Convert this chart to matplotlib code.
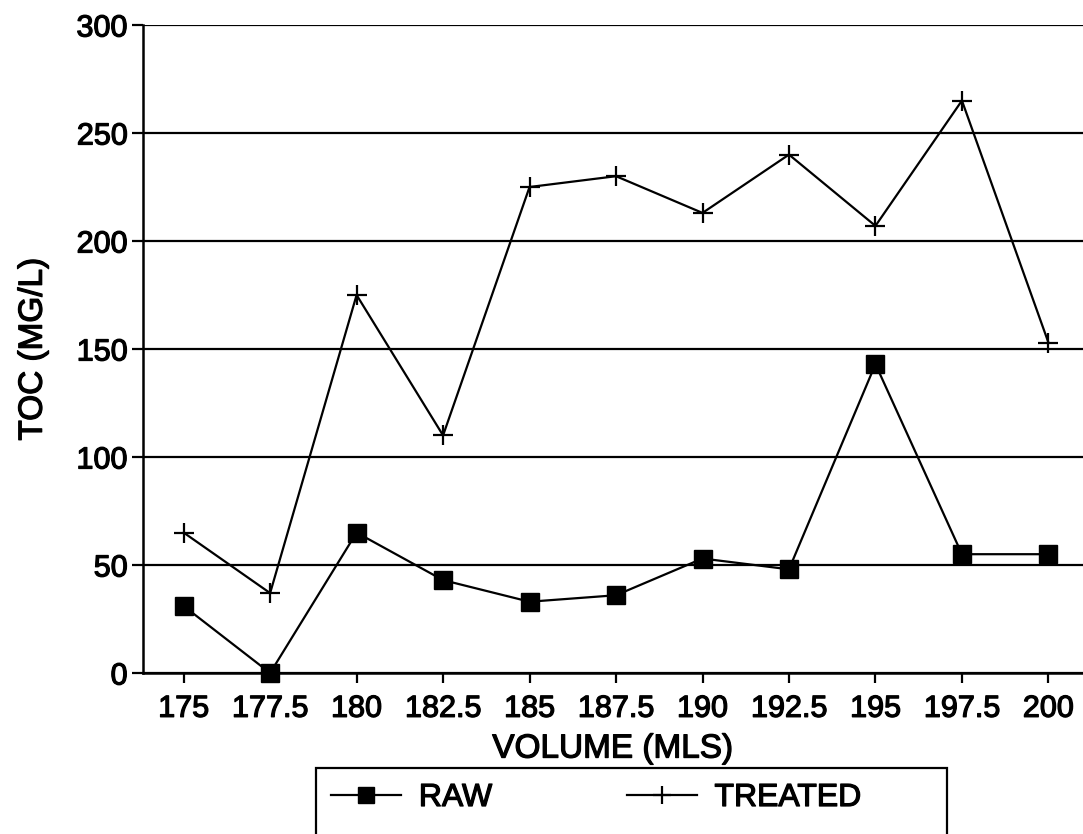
import matplotlib.pyplot as plt
import matplotlib.patheffects as pe
from matplotlib.patches import Rectangle

# TOC vs volume, raw and treated
volume = ['175', '177.5', '180', '182.5', '185', '187.5', '190', '192.5', '195', '197.5', '200']
raw = [31, 0, 65, 43, 33, 36, 53, 48, 143, 55, 55]
treated = [65, 37, 175, 110, 225, 230, 213, 240, 207, 265, 153]

plt.rcParams['font.family'] = ['Liberation Sans', 'DejaVu Sans']
plt.rcParams['font.size'] = 22
heavy = [pe.withStroke(linewidth=0.9, foreground='black')]

W, H = 1083, 834
fig = plt.figure(figsize=(W / 100, H / 100), dpi=100)
ax = fig.add_axes([143 / W, (H - 673) / H, (W - 143) / W, (673 - 25) / H])

x = list(range(len(volume)))
ax.plot(x, raw, color='black', lw=1.6, marker='s', ms=13, label='RAW', clip_on=False, zorder=3)
ax.plot(x, treated, color='black', lw=1.6, marker='+', ms=15, mew=1.6, label='TREATED',
        clip_on=False, zorder=3)

ax.set_xlim(-0.47, 10.4)
ax.set_ylim(0, 300)
ax.set_yticks([0, 50, 100, 150, 200, 250, 300])
ax.set_xticks(x)
ax.set_xticklabels(volume)
ax.yaxis.grid(True, color='black', lw=1.6)
ax.set_axisbelow(True)

for s in ['top', 'right']:
    ax.spines[s].set_visible(False)
for s in ['left', 'bottom']:
    ax.spines[s].set_linewidth(1.8)
ax.tick_params(axis='y', length=8, width=1.6, pad=3)
ax.tick_params(axis='x', length=7, width=1.6, pad=8)

ax.set_xlabel('VOLUME (MLS)', fontsize=24, labelpad=7)
ax.set_ylabel('TOC (MG/L)', fontsize=24, labelpad=20)

for t in ax.get_xticklabels() + ax.get_yticklabels() + [ax.xaxis.label, ax.yaxis.label]:
    t.set_path_effects(heavy)

# legend box running off the bottom edge
fig.patches.append(Rectangle((316 / W, -0.05), (947 - 316) / W, (834 - 768) / H + 0.05,
                             transform=fig.transFigure, fill=False, ec='black', lw=1.6))
leg = fig.legend(loc='upper left', bbox_to_anchor=(331 / W, 1 - 783 / H), ncol=2, frameon=False,
                 borderpad=0, borderaxespad=0, handlelength=2.2, handletextpad=0.55,
                 columnspacing=4.2, markerscale=0.85, fontsize=23)
for t in leg.get_texts():
    t.set_path_effects(heavy)

fig.savefig('out.png', dpi=100)
